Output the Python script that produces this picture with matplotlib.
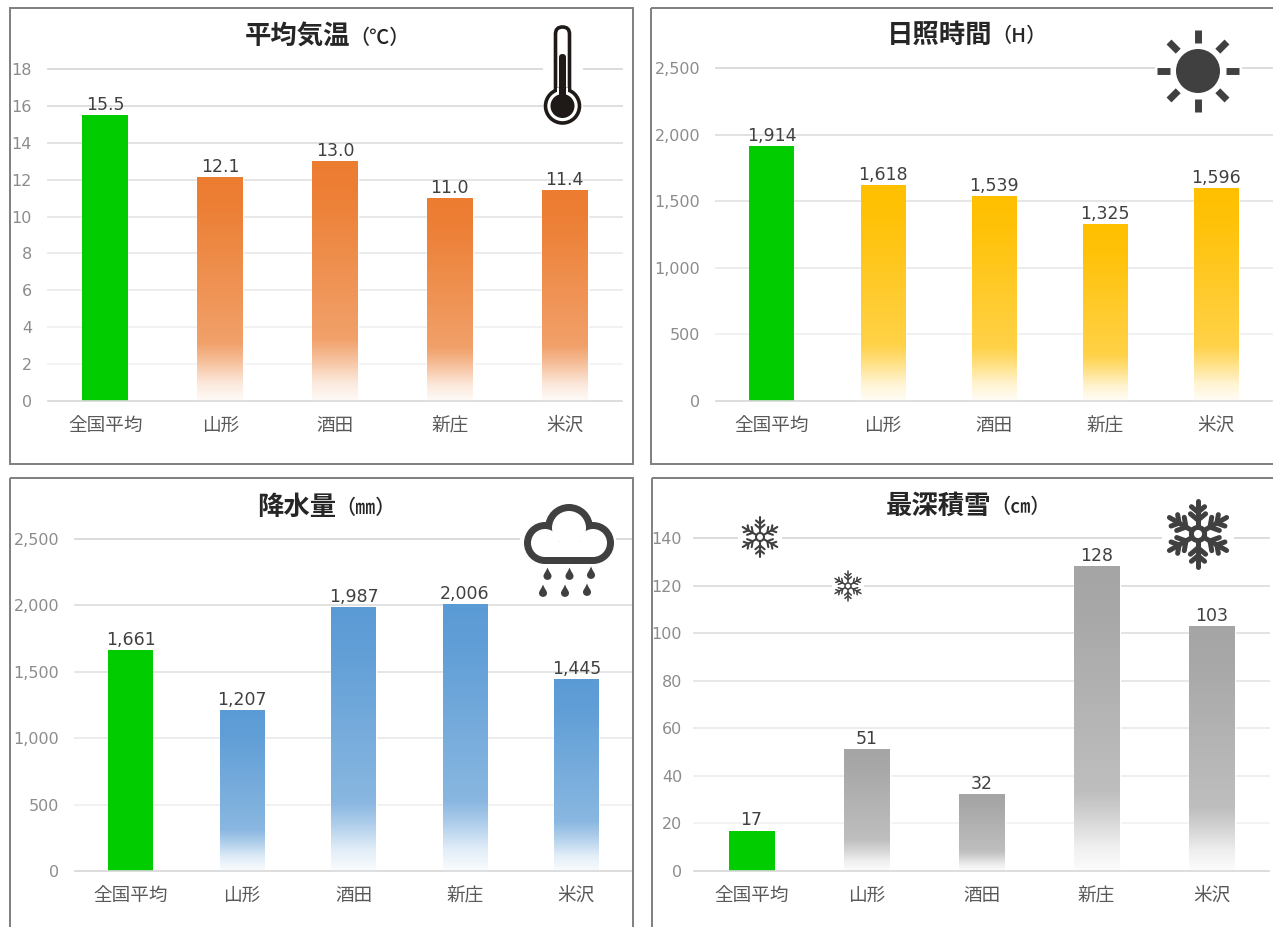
import numpy as np
import matplotlib
matplotlib.use("Agg")
import matplotlib.pyplot as plt
from matplotlib.colors import to_rgb
from matplotlib.patches import Circle, FancyBboxPatch, PathPatch, Rectangle
from matplotlib.path import Path

plt.rcParams["font.family"] = ["Noto Sans CJK JP", "DejaVu Sans"]

W, H = 1273, 927

cities = ["全国平均", "山形", "酒田", "新庄", "米沢"]

temp_values = [15.5, 12.1, 13.0, 11.0, 11.4]
temp_ticks = [0, 2, 4, 6, 8, 10, 12, 14, 16, 18]

sun_values = [1914, 1618, 1539, 1325, 1596]
sun_ticks = [0, 500, 1000, 1500, 2000, 2500]

rain_values = [1661, 1207, 1987, 2006, 1445]
rain_ticks = [0, 500, 1000, 1500, 2000, 2500]

snow_values = [17, 51, 32, 128, 103]
snow_ticks = [0, 20, 40, 60, 80, 100, 120, 140]

GREEN = "#00cc00"
ICON = "#404040"

# fade of the bars, from the foot (0) to the top (1)
fade_pos = [0.0, 0.08, 0.18, 0.26, 0.85, 1.0]
fade_alpha = [0.03, 0.18, 0.5, 0.72, 0.97, 1.0]


def make_panel(box, values, ticks, color, fmt, pad_y=11.5):
    left, top, right, bottom = box
    ax = fig.add_axes(
        [left / W, 1 - bottom / H, (right - left) / W, (bottom - top) / H]
    )
    ax.set_facecolor("none")
    x = np.arange(len(values))
    bars = ax.bar(x, values, width=0.4, color=GREEN, zorder=2)

    # all bars but the first get a vertical fade, blended on white
    t = np.linspace(1, 0, 256)
    alpha = np.interp(t, fade_pos, fade_alpha)[:, None, None]
    grad = alpha * np.array(to_rgb(color)) + (1 - alpha)
    for bar in bars[1:]:
        bar.set_color("white")
        ax.imshow(
            grad,
            extent=(bar.get_x(), bar.get_x() + bar.get_width(), 0, bar.get_height()),
            aspect="auto",
            zorder=2.1,
            interpolation="bilinear",
        )

    ax.set_xlim(-0.5, len(values) - 0.5)
    ax.set_ylim(0, ticks[-1])
    ax.set_xticks(x)
    ax.set_xticklabels(cities, fontsize=13.4, color="#595959")
    ax.set_yticks(ticks)
    ax.set_yticklabels(
        ["{:,}".format(v) for v in ticks], fontsize=11.5, color="#8c8c8c", family="DejaVu Sans"
    )
    ax.tick_params(axis="x", length=0, pad=11.5)
    ax.tick_params(axis="y", length=0, pad=pad_y)
    for side in ["top", "left", "right"]:
        ax.spines[side].set_visible(False)
    ax.spines["bottom"].set_color("#d9d9d9")
    ax.spines["bottom"].set_linewidth(1.2)

    # grid gets paler toward the foot of the chart
    ax.grid(axis="y", linewidth=1.3, zorder=1)
    ax.set_axisbelow(True)
    lines = ax.get_ygridlines()
    for i, line in enumerate(lines):
        g = 0.965 - 0.115 * i / (len(lines) - 1)
        line.set_color((g, g, g))
        line.set_clip_on(False)

    labels = ax.bar_label(
        bars, fmt=fmt, padding=1, fontsize=12.5, color="#404040", family="DejaVu Sans"
    )
    for label in labels:
        label.set_zorder(5)
    return ax


def flake(ax, cx, cy, r, lw):
    for a in np.deg2rad(np.arange(0, 360, 60) + 90):
        dx, dy = np.cos(a), -np.sin(a)
        ax.plot(
            [cx + dx * r * 0.2, cx + dx * r],
            [cy + dy * r * 0.2, cy + dy * r],
            color=ICON, lw=lw, solid_capstyle="round", zorder=11,
        )
        for s in (-1, 1):
            b = a + s * np.deg2rad(50)
            for start, length in ((0.42, 0.3), (0.66, 0.26)):
                px, py = cx + dx * r * start, cy + dy * r * start
                ax.plot(
                    [px, px + np.cos(b) * r * length],
                    [py, py - np.sin(b) * r * length],
                    color=ICON, lw=lw, solid_capstyle="round", zorder=11,
                )
    ax.add_patch(Circle((cx, cy), r * 0.2, fc="white", ec=ICON, lw=lw, zorder=12))


def drop(ax, cx, cy, r):
    verts = [
        (cx, cy - 2.1 * r),
        (cx + 0.5 * r, cy - 0.9 * r),
        (cx + r, cy - 0.5 * r),
        (cx + r, cy),
        (cx + r, cy + 1.3 * r),
        (cx - r, cy + 1.3 * r),
        (cx - r, cy),
        (cx - r, cy - 0.5 * r),
        (cx - 0.5 * r, cy - 0.9 * r),
        (cx, cy - 2.1 * r),
    ]
    codes = [Path.MOVETO] + [Path.CURVE4] * 9
    ax.add_patch(PathPatch(Path(verts, codes), fc=ICON, ec="none", zorder=11))


fig = plt.figure(figsize=(W / 100, H / 100), dpi=100, facecolor="white")

make_panel((48, 69, 622, 401), temp_values, temp_ticks, "#ec7c30", "{:.1f}")
make_panel((716, 68, 1272, 401), sun_values, sun_ticks, "#ffc000", "{:,.0f}")
make_panel((75, 539, 632, 871), rain_values, rain_ticks, "#5b9bd5", "{:,.0f}")
make_panel((694, 538, 1269, 871), snow_values, snow_ticks, "#a5a5a5", "{:.0f}", pad_y=8.5)

# overlay in pixel coordinates for frames, titles and pictograms
top = fig.add_axes([0, 0, 1, 1], zorder=10)
top.set_xlim(0, W)
top.set_ylim(H, 0)
top.axis("off")

for x0, y0, x1, y1 in [(10, 8, 633, 464), (651, 8, 1280, 464), (10, 478, 633, 940), (652, 478, 1280, 940)]:
    top.add_patch(Rectangle((x0, y0), x1 - x0, y1 - y0, fc="none", ec="#7f7f7f", lw=1.4))

for name, unit, x, y in [
    ("平均気温", "（℃）", 350, 37),
    ("日照時間", "（H）", 992, 35),
    ("降水量", "（㎜）", 336, 507),
    ("最深積雪", "（㎝）", 991, 506),
]:
    top.text(x, y, name, ha="right", va="center", fontsize=19, fontweight="bold", color="#262626")
    top.text(x - 1, y + 1, unit, ha="left", va="center", fontsize=14.5, fontweight="medium", color="#262626")

# thermometer
top.add_patch(Rectangle((543, 60), 40, 68, fc="white", ec="none", zorder=10.5))
top.add_patch(FancyBboxPatch((555.5, 27), 14, 70, boxstyle="round,pad=0,rounding_size=7", fc="white", ec="#1f1a17", lw=2.6, zorder=11))
top.add_patch(Circle((562.5, 106), 17, fc="white", ec="#1f1a17", lw=2.6, zorder=11))
top.add_patch(Rectangle((557, 88), 11, 16, fc="white", ec="none", zorder=11.1))
top.add_patch(FancyBboxPatch((559, 54), 7, 50, boxstyle="round,pad=0,rounding_size=3.5", fc="#1f1a17", ec="none", zorder=11.2))
top.add_patch(Circle((562.5, 106), 12, fc="#1f1a17", ec="none", zorder=11.2))

# sun
top.add_patch(Rectangle((1155, 28), 87, 87, fc="white", ec="none", zorder=10.5))
top.add_patch(Circle((1198, 71), 22, fc=ICON, ec="none", zorder=11))
for a in np.deg2rad(np.arange(0, 360, 45)):
    top.plot(
        [1198 + 28 * np.cos(a), 1198 + 41 * np.cos(a)],
        [71 + 28 * np.sin(a), 71 + 41 * np.sin(a)],
        color=ICON, lw=5, solid_capstyle="butt", zorder=11,
    )

# cloud with rain
top.add_patch(Rectangle((520, 500), 96, 100, fc="white", ec="none", zorder=10.5))
lobes = [(545, 543, 21), (569, 528, 24), (593, 543, 21)]
for grow, colour, z in [(0, ICON, 11), (-7, "white", 11.1)]:
    for cx, cy, r in lobes:
        top.add_patch(Circle((cx, cy), r + grow, fc=colour, ec="none", zorder=z))
    top.add_patch(Rectangle((545, 535 - grow), 48, 29 + grow * 2, fc=colour, ec="none", zorder=z))
for cx, cy in [(547.5, 576), (569.5, 576), (591, 575), (543, 593), (565, 593), (587, 592)]:
    drop(top, cx, cy, 4)

# snow
top.add_patch(Rectangle((738, 515), 44, 44, fc="white", ec="none", zorder=10.5))
top.add_patch(Rectangle((832, 570), 32, 32, fc="white", ec="none", zorder=10.5))
top.add_patch(Rectangle((1162, 498), 72, 72, fc="white", ec="none", zorder=10.5))
flake(top, 760, 537, 20, 1.5)
flake(top, 848, 586, 15, 1.1)
flake(top, 1198, 534, 33, 3.6)

fig.savefig("out.png", dpi=100)
